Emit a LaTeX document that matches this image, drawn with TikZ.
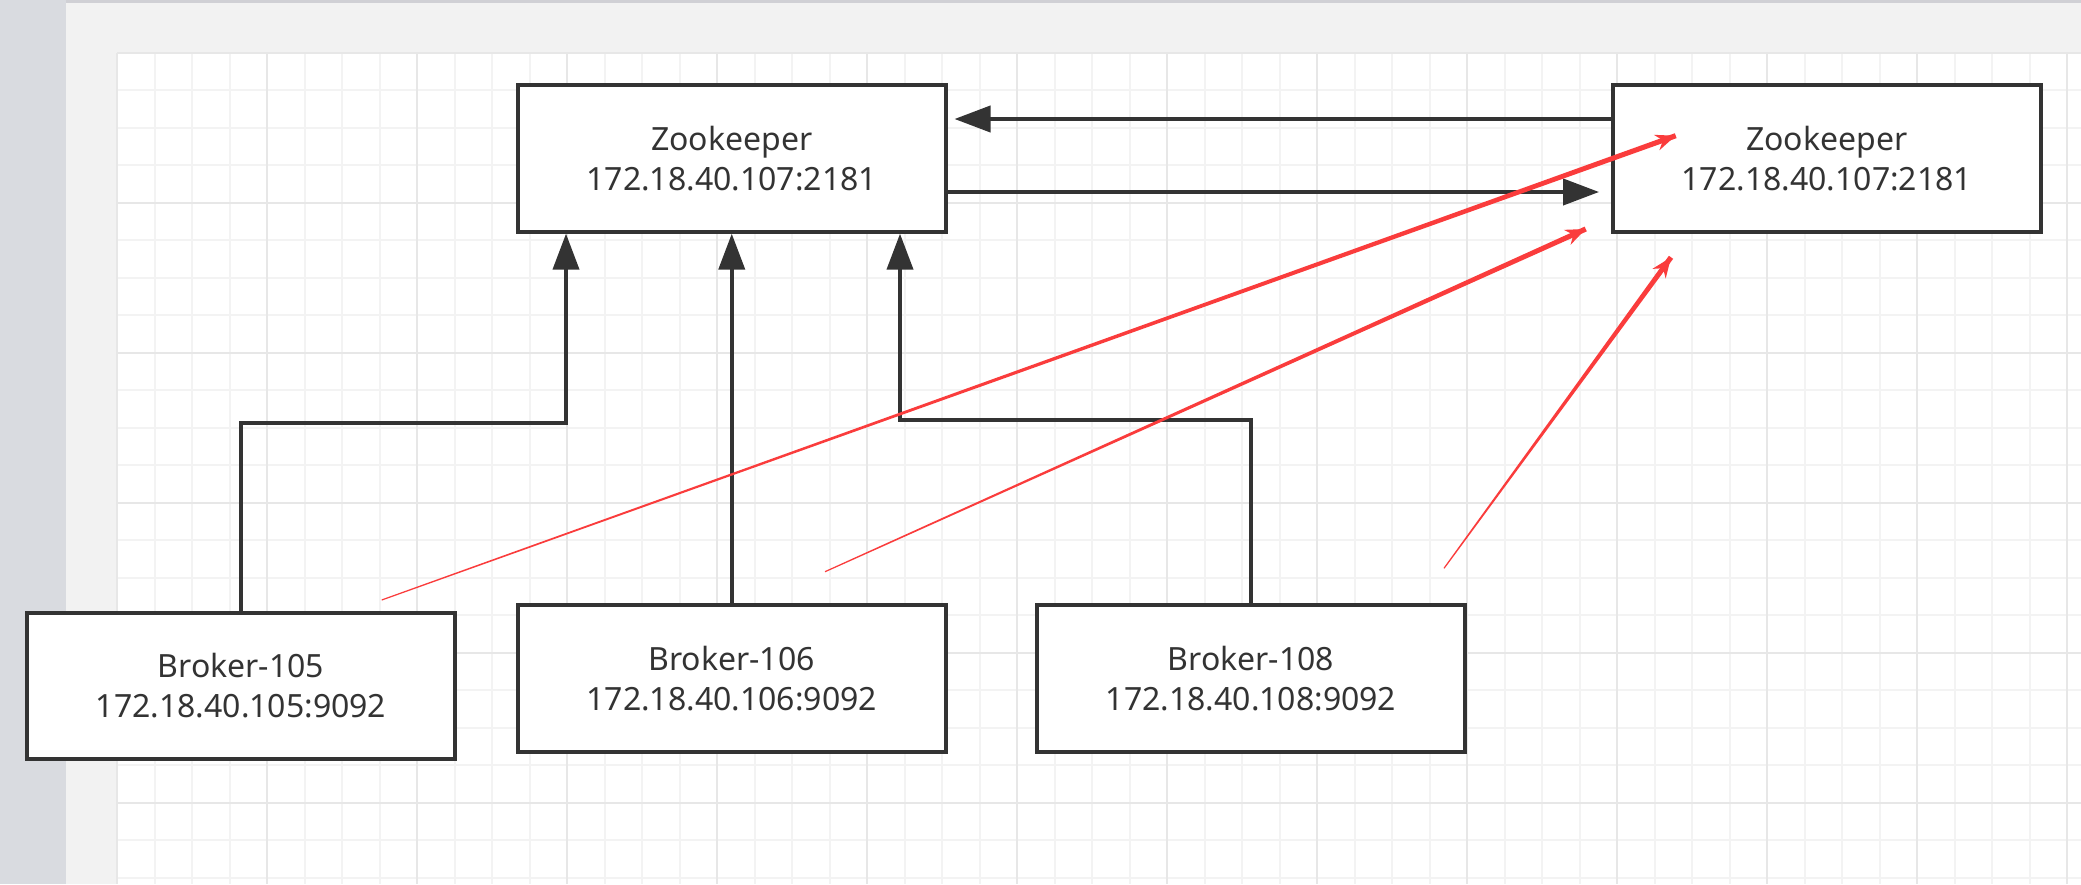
\documentclass[tikz,border=0pt]{standalone}
\usepackage{fontspec}
\setmainfont{Noto Sans}
\usetikzlibrary{arrows.meta,calc}

\definecolor{ink}{RGB}{51,51,51}
\definecolor{pen}{RGB}{250,60,60}
\definecolor{panel}{RGB}{242,242,242}
\definecolor{strip}{RGB}{217,219,224}
\definecolor{rim}{RGB}{208,208,213}
\definecolor{gridlo}{RGB}{243,243,243}
\definecolor{gridhi}{RGB}{231,231,231}

\begin{document}
\begin{tikzpicture}[x=0.5pt,y=-0.5pt,
  box/.style={draw=ink,line width=2pt,fill=white,text=ink,align=center,inner sep=0pt,
    minimum width=213.75pt,minimum height=73.25pt,font=\fontsize{16}{20}\selectfont},
  conn/.style={draw=ink,line width=2pt,-{Triangle[length=18pt,width=13pt]}},
  redtail/.style={fill=pen},
  redhead/.style={draw=pen,line width=2pt,-{Stealth[length=10pt,width=8pt]}}]
\useasboundingbox (0,0) rectangle (2081,884);
% canvas
\fill[panel] (0,0) rectangle (2081,884);
\fill[strip] (0,0) rectangle (66,884);
\fill[rim] (66,0) rectangle (2081,2.5);
\fill[white] (117,52.7) rectangle (2081,884);
\foreach \gx in {0,...,52} \draw[gridlo,line width=1pt] ({117+37.5*\gx},52.7) -- ({117+37.5*\gx},884);
\foreach \gy in {0,...,22} \draw[gridlo,line width=1pt] (117,{52.7+37.5*\gy}) -- (2081,{52.7+37.5*\gy});
\foreach \gx in {0,4,...,52} \draw[gridhi,line width=1pt] ({117+37.5*\gx},52.7) -- ({117+37.5*\gx},884);
\foreach \gy in {0,4,...,20} \draw[gridhi,line width=1pt] (117,{52.7+37.5*\gy}) -- (2081,{52.7+37.5*\gy});
% nodes
\node[box] (zk1) at (731.75,158.4) {Zookeeper\\172.18.40.107:2181};
\node[box] (zk2) at (1826.8,158.4) {Zookeeper\\172.18.40.107:2181};
\node[box] (105) at (241,685.75) {Broker-105\\172.18.40.105:9092};
\node[box] (106) at (731.75,678.5) {Broker-106\\172.18.40.106:9092};
\node[box] (108) at (1251,678.5) {Broker-108\\172.18.40.108:9092};
% black connectors
\coordinate (k1) at (566,423);
\coordinate (k2) at (900,420);
\path[conn] (105.north) |- (k1) -- (k1 |- zk1.south);
\path[conn] (106.north) -- (zk1.south);
\path[conn] (108.north) |- (k2) -- (k2 |- zk1.south);
\path[conn,shorten >=3.5pt] (zk2.west |- 0,119) -- (zk1.east |- 0,119);
\path[conn,shorten >=6pt] (zk1.east |- 0,192) -- (zk2.west |- 0,192);
% red marks
\coordinate (r1s) at (381.7,600);
\coordinate (r1e) at (1675.7,135.7);
\coordinate (r2s) at (825,571.7);
\coordinate (r2e) at (1585.7,229);
\coordinate (r3s) at (1444,568.3);
\coordinate (r3e) at (1671,257.3);
\fill[redtail] ($(r1s)!0.3pt!90:(r1e)$) -- ($(r1e)!1.3pt!-90:(r1s)$) -- ($(r1e)!1.3pt!90:(r1s)$) -- ($(r1s)!0.3pt!-90:(r1e)$) -- cycle;
\fill[redtail] ($(r2s)!0.3pt!90:(r2e)$) -- ($(r2e)!1.3pt!-90:(r2s)$) -- ($(r2e)!1.3pt!90:(r2s)$) -- ($(r2s)!0.3pt!-90:(r2e)$) -- cycle;
\fill[redtail] ($(r3s)!0.3pt!90:(r3e)$) -- ($(r3e)!1.3pt!-90:(r3s)$) -- ($(r3e)!1.3pt!90:(r3s)$) -- ($(r3s)!0.3pt!-90:(r3e)$) -- cycle;
\path[redhead] ($(r1e)!14pt!(r1s)$) -- (r1e);
\path[redhead] ($(r2e)!14pt!(r2s)$) -- (r2e);
\path[redhead] ($(r3e)!14pt!(r3s)$) -- (r3e);
\end{tikzpicture}
\end{document}
